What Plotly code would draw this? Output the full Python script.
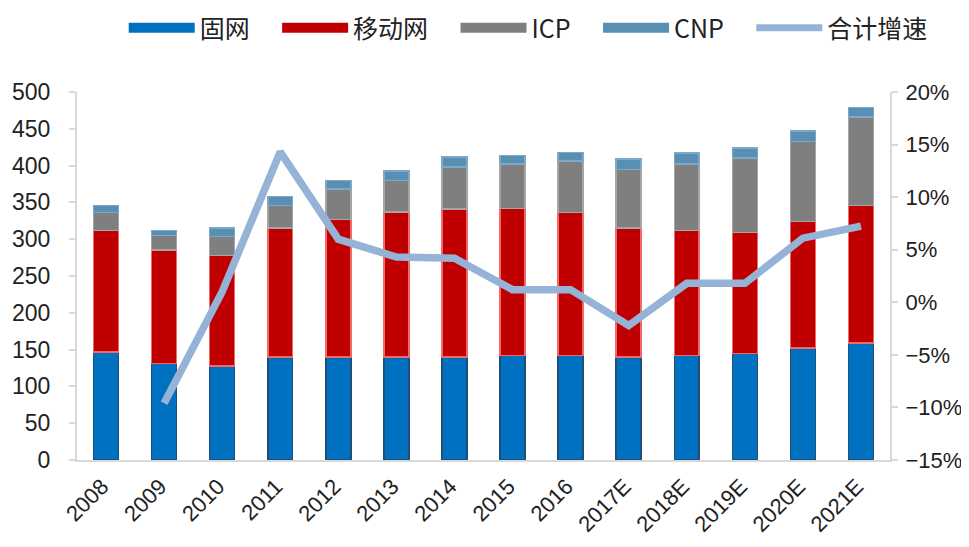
import plotly.graph_objects as go

years = ["2008", "2009", "2010", "2011", "2012", "2013", "2014", "2015", "2016",
         "2017E", "2018E", "2019E", "2020E", "2021E"]
fixed = [147, 131, 128, 140, 140, 140, 140, 142, 142, 140, 142, 145, 152, 159]
mobile = [165, 154, 150, 175, 187, 197, 201, 200, 194, 175, 170, 164, 172, 187]
icp = [24, 20, 26, 31, 41, 43, 57, 60, 70, 80, 90, 101, 109, 120]
cnp = [10, 6.5, 11, 12, 12, 13, 14, 11.5, 12, 14, 15, 14, 14, 13]
growth_years = years[1:]
growth = [-9.6, 1.0, 14.3, 6.0, 4.3, 4.2, 1.2, 1.2, -2.2, 1.8, 1.8, 6.1, 7.25]

names = ["固网", "移动网", "ICP", "CNP"]
colors = ["#0070C0", "#C00000", "#7F7F7F", "#5A8FB4"]
edges = ["#1F4E79", "#F06A6A", "#A6A6A6", "#7FA8C8"]
series = [fixed, mobile, icp, cnp]
line_name = "合计增速"
line_color = "#95B3D7"
pad = "\u00a0" * 4

W, H = 961, 531  # page body has an 8px default margin; keep page from overflowing

fig = go.Figure()
for name, vals, c, e in zip(names, series, colors, edges):
    fig.add_trace(go.Bar(x=years, y=vals, name=name, marker=dict(color=c, line=dict(color=e, width=1.5)),
                         showlegend=False, yaxis="y"))
fig.add_trace(go.Scatter(x=growth_years, y=growth, name=line_name, mode="lines",
                         line=dict(color=line_color, width=7.5), yaxis="y2", showlegend=False))
# legend entries
for name, c in zip(names, colors):
    fig.add_trace(go.Scatter(x=[None], y=[None], mode="lines", name=name + pad,
                             line=dict(color=c, width=12), yaxis="y"))
fig.add_trace(go.Scatter(x=[None], y=[None], mode="lines", name=line_name,
                         line=dict(color=line_color, width=7), yaxis="y2"))

tickfont = dict(family="Liberation Sans", size=23, color="#222222")
rtickfont = dict(family="Liberation Sans", size=22, color="#222222")
xtickfont = dict(family="Liberation Sans", size=22, color="#222222")
fig.update_layout(
    width=W, height=H,
    margin=dict(l=69, r=79, t=84, b=79),
    paper_bgcolor="white", plot_bgcolor="white",
    barmode="stack", bargap=0.57,
    font=dict(family="Liberation Sans, Noto Sans CJK SC", size=22, color="#222222"),
    legend=dict(orientation="h", x=0.555, xanchor="center", yref="container",
                y=1 - 20 / H, yanchor="middle",
                font=dict(family="Noto Sans CJK SC, Liberation Sans", size=25, color="#222222"),
                itemwidth=66, traceorder="normal", bgcolor="rgba(0,0,0,0)"),
    xaxis=dict(type="category", tickangle=-45, tickfont=xtickfont, showline=True,
               linecolor="#D9D9D9", linewidth=2, ticks="", showgrid=False, automargin=False,
               ticklabelstandoff=3, ticklabelshift=-4),
    yaxis=dict(range=[0, 500], dtick=50, tickfont=tickfont, showline=True, linecolor="#D9D9D9",
               linewidth=2, ticks="outside", tickcolor="#D9D9D9", ticklen=6, tickwidth=2,
               showgrid=False, zeroline=False, ticklabelstandoff=14, automargin=False),
    yaxis2=dict(range=[-15, 20], dtick=5, ticksuffix="%", overlaying="y", side="right",
                tickfont=rtickfont, showline=True, linecolor="#D9D9D9", linewidth=2,
                ticks="outside", tickcolor="#D9D9D9", ticklen=6, tickwidth=2,
                showgrid=False, zeroline=False, ticklabelstandoff=3, automargin=False),
)
fig.write_html("out.html")
